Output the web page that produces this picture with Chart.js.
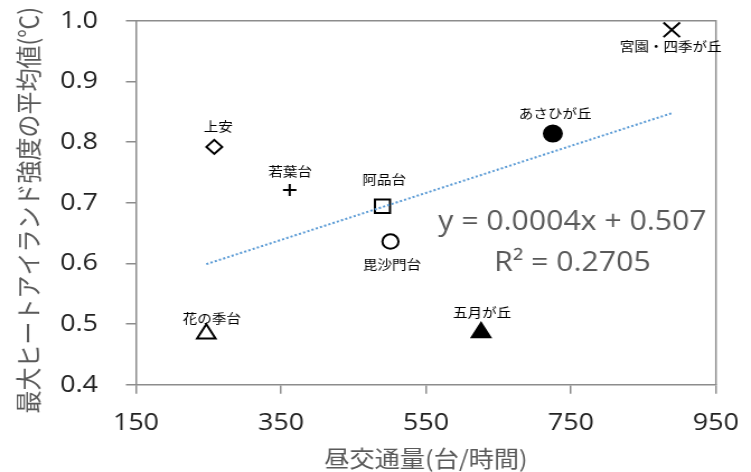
<!DOCTYPE html>
<html>
<head>
<meta charset="utf-8">
<script src="https://cdn.jsdelivr.net/npm/chart.js@4/dist/chart.umd.min.js"></script>
<style>
  html, body { margin: 0; padding: 0; background: #fff; overflow: hidden; }
  #wrap { width: 751px; height: 472px; overflow: hidden; }
  /* the chart is laid out narrow and widened to the page width */
  #c { display: block; transform: scaleX(1.1192); transform-origin: 0 0; }
</style>
</head>
<body>
<div id="wrap"><canvas id="c" width="671" height="472"></canvas></div>
<script>
// 地区ごとの昼交通量と最大ヒートアイランド強度の平均値
const sites = ['花の季台', '上安', '若葉台', '阿品台', '毘沙門台', '五月が丘', 'あさひが丘', '宮園・四季が丘'];
const traffic = [247, 258, 362, 490, 501, 626, 725, 889];
const heatIsland = [0.484, 0.792, 0.721, 0.694, 0.636, 0.486, 0.814, 0.985];
const xTicks = [150, 350, 550, 750, 950];
const yTicks = [0.4, 0.5, 0.6, 0.7, 0.8, 0.9, 1.0];
const xTitle = '昼交通量(台/時間)';
const yTitle = '最大ヒートアイランド強度の平均値(℃)';
const equationLines = ['y = 0.0004x + 0.507', 'R² = 0.2705'];

// marker appearance per site
const markerStyles = ['triangle', 'rectRot', 'cross', 'rect', 'circle', 'triangle', 'circle', 'crossRot'];
const markerFills  = ['#fff', '#fff', '#fff', '#fff', '#fff', '#000', '#000', '#fff'];
const markerSizes  = [9.5, 7, 6, 9.5, 7.2, 9.5, 8, 10.4];

// site-name placement relative to its marker (px)
const labelShift = [[5, -16], [3.5, -20.7], [0.5, -18.5], [1.5, -27.7], [1.5, 23], [1, -20], [2, -20], [-1, 16.7]];
// where the regression equation sits, in axis units
const equationAnchor = { x: 752, y: [0.667, 0.600] };

// least-squares line through the sites
const n = traffic.length;
const meanX = traffic.reduce((a, b) => a + b, 0) / n;
const meanY = heatIsland.reduce((a, b) => a + b, 0) / n;
let sxy = 0, sxx = 0;
for (let i = 0; i < n; i++) {
  sxy += (traffic[i] - meanX) * (heatIsland[i] - meanY);
  sxx += (traffic[i] - meanX) ** 2;
}
const slope = sxy / sxx;
const intercept = meanY - slope * meanX;
const xMin = Math.min(...traffic), xMax = Math.max(...traffic);
const trend = [xMin, xMax].map(x => ({ x, y: intercept + slope * x }));

const AXIS = '#8c8c8c';
const TITLE_FONT = '"Noto Sans CJK JP"';

const framePlugin = {
  id: 'frame',
  afterDatasetsDraw(chart) {
    const { ctx, chartArea: a } = chart;
    ctx.save();
    ctx.strokeStyle = AXIS;
    ctx.lineWidth = 1.5;
    ctx.beginPath();
    ctx.moveTo(a.left, a.top);
    ctx.lineTo(a.right, a.top);
    ctx.lineTo(a.right, a.bottom);
    ctx.stroke();
    ctx.restore();
  }
};

const labelPlugin = {
  id: 'siteLabels',
  afterDatasetsDraw(chart) {
    const { ctx, chartArea: a } = chart;
    const meta = chart.getDatasetMeta(1);
    ctx.save();
    ctx.font = '13px ' + TITLE_FONT;
    ctx.fillStyle = '#000';
    ctx.textAlign = 'center';
    ctx.textBaseline = 'middle';
    meta.data.forEach((pt, i) => {
      ctx.fillText(sites[i], pt.x + labelShift[i][0], pt.y + labelShift[i][1]);
    });
    // regression equation
    const xs = chart.scales.x, ys = chart.scales.y;
    ctx.font = '27px "Open Sans"';
    ctx.fillStyle = '#595959';
    equationLines.forEach((t, i) => {
      ctx.fillText(t, xs.getPixelForValue(equationAnchor.x), ys.getPixelForValue(equationAnchor.y[i]));
    });
    // vertical axis title, reading upward
    ctx.translate(25, (a.top + a.bottom) / 2 + 7.5);
    ctx.rotate(-Math.PI / 2);
    ctx.font = '23px ' + TITLE_FONT;
    ctx.fillText(yTitle, 0, 0);
    ctx.restore();
  }
};

new Chart(document.getElementById('c'), {
  data: {
    datasets: [
      {
        type: 'line',
        data: trend,
        borderColor: '#5B9BD5',
        borderWidth: 2,
        borderDash: [2, 2],
        pointRadius: 0,
        fill: false,
        order: 0
      },
      {
        type: 'scatter',
        data: traffic.map((x, i) => ({ x, y: heatIsland[i] })),
        pointStyle: markerStyles,
        pointRadius: markerSizes,
        pointHoverRadius: markerSizes,
        pointBackgroundColor: markerFills,
        pointBorderColor: '#000',
        pointBorderWidth: 2,
        order: 1
      }
    ]
  },
  options: {
    responsive: false,
    devicePixelRatio: 1,
    animation: false,
    events: [],
    layout: { padding: { top: 20.7, right: 31.3, left: 0, bottom: 0 } },
    plugins: { legend: { display: false }, tooltip: { enabled: false } },
    scales: {
      x: {
        type: 'linear',
        min: 150,
        max: 950,
        afterBuildTicks: s => { s.ticks = xTicks.map(v => ({ value: v })); },
        afterFit: s => { s.height = 87.3; s.paddingLeft = 0; s.paddingRight = 0; },
        grid: { drawOnChartArea: false, drawTicks: true, tickLength: 9, color: AXIS, lineWidth: 1.5 },
        border: { display: true, color: AXIS, width: 1.5 },
        ticks: { font: { family: '"Open Sans"', size: 24 }, color: '#222', padding: 15, maxRotation: 0 },
        title: {
          display: true,
          text: xTitle,
          font: { family: TITLE_FONT, size: 22.5 },
          color: '#595959',
          padding: { top: 0, bottom: 0 }
        }
      },
      y: {
        type: 'linear',
        min: 0.4,
        max: 1.0,
        afterBuildTicks: s => { s.ticks = yTicks.map(v => ({ value: v })); },
        afterFit: s => { s.width = 121.5; s.paddingTop = 0; s.paddingBottom = 0; },
        grid: { drawOnChartArea: false, drawTicks: true, tickLength: 9, color: AXIS, lineWidth: 1.5 },
        border: { display: true, color: AXIS, width: 1.5 },
        ticks: { font: { family: '"Open Sans"', size: 24 }, color: '#222', padding: 25, callback: v => v.toFixed(1) },
        title: { display: false }
      }
    }
  },
  plugins: [framePlugin, labelPlugin]
});
</script>
</body>
</html>
